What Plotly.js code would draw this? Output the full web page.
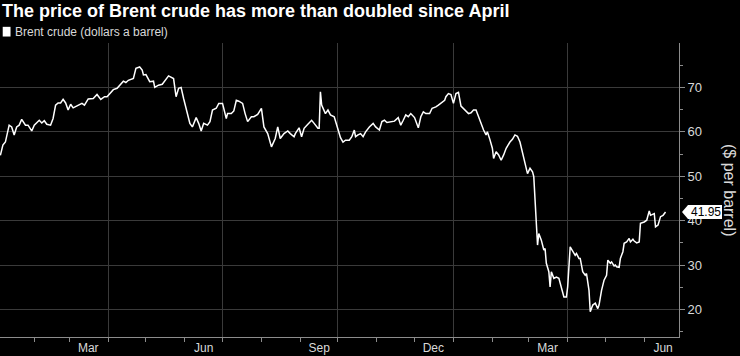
<!DOCTYPE html>
<html>
<head>
<meta charset="utf-8">
<script src="https://cdn.plot.ly/plotly-3.0.1.min.js"></script>
<style>
  html, body { margin: 0; padding: 0; background: #000; }
  #chart { width: 740px; height: 356px; }
</style>
</head>
<body>
<div id="chart"></div>
<script>
const chartTitle = 'The price of Brent crude has more than doubled since April';
const seriesName = 'Brent crude (dollars a barrel)';
const yAxisTitle = '($ per barrel)';

const dates = [
  '2019-01-05','2019-01-07','2019-01-09','2019-01-12','2019-01-14','2019-01-16','2019-01-18','2019-01-20',
  '2019-01-22','2019-01-25','2019-01-27','2019-01-30','2019-02-01','2019-02-05','2019-02-07','2019-02-09',
  '2019-02-11','2019-02-14','2019-02-16','2019-02-18','2019-02-20','2019-02-22','2019-02-24','2019-02-26',
  '2019-02-28','2019-03-02','2019-03-04','2019-03-08','2019-03-11','2019-03-13','2019-03-16','2019-03-20',
  '2019-03-23','2019-03-26','2019-03-29','2019-03-31','2019-04-03','2019-04-05','2019-04-08','2019-04-11',
  '2019-04-13','2019-04-15','2019-04-17','2019-04-21','2019-04-23','2019-04-26','2019-04-28','2019-04-29',
  '2019-05-01','2019-05-04','2019-05-07','2019-05-08','2019-05-11','2019-05-14','2019-05-17','2019-05-19',
  '2019-05-23','2019-05-25','2019-05-27','2019-05-29','2019-05-31','2019-06-03','2019-06-05','2019-06-07',
  '2019-06-10','2019-06-12','2019-06-14','2019-06-16','2019-06-19','2019-06-21','2019-06-23','2019-06-26',
  '2019-06-28','2019-07-01','2019-07-04','2019-07-05','2019-07-08','2019-07-10','2019-07-12','2019-07-14',
  '2019-07-17','2019-07-19','2019-07-21','2019-07-24','2019-07-26','2019-07-29','2019-08-01','2019-08-03',
  '2019-08-06','2019-08-09','2019-08-11','2019-08-12','2019-08-14','2019-08-16','2019-08-19','2019-08-22',
  '2019-08-24','2019-08-27','2019-08-28','2019-08-31','2019-09-02','2019-09-04','2019-09-07','2019-09-10',
  '2019-09-12','2019-09-15','2019-09-16','2019-09-17','2019-09-18','2019-09-21','2019-09-23','2019-09-25',
  '2019-09-28','2019-09-30','2019-10-03','2019-10-05','2019-10-07','2019-10-10','2019-10-12','2019-10-14',
  '2019-10-15','2019-10-17','2019-10-19','2019-10-21','2019-10-23','2019-10-26','2019-10-29','2019-10-31',
  '2019-11-03','2019-11-05','2019-11-07','2019-11-09','2019-11-12','2019-11-15','2019-11-18','2019-11-20',
  '2019-11-22','2019-11-24','2019-11-26','2019-11-28','2019-12-01','2019-12-04','2019-12-06','2019-12-08',
  '2019-12-10','2019-12-13','2019-12-15','2019-12-18','2019-12-20','2019-12-22','2019-12-25','2019-12-26',
  '2019-12-28','2019-12-30','2020-01-01','2020-01-03','2020-01-05','2020-01-07','2020-01-10','2020-01-13',
  '2020-01-15','2020-01-17','2020-01-19','2020-01-22','2020-01-25','2020-01-27','2020-01-28','2020-01-30',
  '2020-02-01','2020-02-02','2020-02-04','2020-02-06','2020-02-08','2020-02-10','2020-02-12','2020-02-15',
  '2020-02-17','2020-02-19','2020-02-21','2020-02-23','2020-02-25','2020-02-27','2020-02-29','2020-03-02',
  '2020-03-04','2020-03-05','2020-03-06','2020-03-08','2020-03-09','2020-03-11','2020-03-13','2020-03-14',
  '2020-03-15','2020-03-17','2020-03-18','2020-03-19','2020-03-21','2020-03-23','2020-03-25','2020-03-27',
  '2020-03-29','2020-03-31','2020-04-01','2020-04-03','2020-04-05','2020-04-07','2020-04-08','2020-04-10',
  '2020-04-11','2020-04-13','2020-04-15','2020-04-16','2020-04-18','2020-04-19','2020-04-21','2020-04-23',
  '2020-04-25','2020-04-26','2020-04-28','2020-04-30','2020-05-02','2020-05-03','2020-05-05','2020-05-06',
  '2020-05-08','2020-05-09','2020-05-10','2020-05-12','2020-05-13','2020-05-15','2020-05-16','2020-05-18',
  '2020-05-20','2020-05-21','2020-05-23','2020-05-24','2020-05-26','2020-05-28','2020-05-29','2020-06-01',
  '2020-06-03','2020-06-05','2020-06-06','2020-06-09','2020-06-10','2020-06-12','2020-06-14','2020-06-16',
  '2020-06-18'
];

const prices = [
  54.7,57.0,57.7,61.5,61.1,59.3,61.1,61.5,
  62.8,61.5,61.5,60.2,61.5,62.6,62.0,62.5,
  61.7,61.5,63.0,66.0,66.5,66.5,67.3,66.5,
  64.9,66.2,65.4,65.9,66.4,66.0,67.4,67.5,
  68.4,67.3,67.9,67.9,69.0,69.5,69.8,70.9,
  71.4,71.1,71.6,72.0,74.3,74.6,73.9,72.8,
  72.9,71.3,71.4,70.0,70.5,70.7,72.0,72.6,
  72.0,67.9,69.8,70.0,67.5,63.8,61.9,61.1,
  63.2,61.9,60.2,61.9,61.5,62.3,64.9,65.3,
  66.4,66.4,63.0,64.1,64.1,64.7,67.1,66.9,
  66.4,64.1,62.3,63.4,63.4,63.9,65.3,61.1,
  59.6,56.6,58.1,58.5,61.1,58.5,59.6,60.2,
  59.6,58.9,59.6,60.9,58.9,60.8,61.7,62.6,
  61.9,60.8,60.8,69.0,66.0,64.1,64.9,63.8,
  63.4,61.7,58.7,57.7,58.1,58.1,58.9,60.4,
  58.9,59.3,59.6,58.9,60.0,61.1,61.9,61.1,
  60.4,62.3,62.6,62.1,62.3,62.4,63.2,61.5,
  62.6,63.8,63.4,64.1,63.2,60.9,63.4,64.5,
  64.1,64.1,65.3,65.6,66.0,66.4,67.1,67.9,
  68.6,68.4,66.4,68.6,68.9,65.8,65.0,64.1,
  64.3,64.9,64.9,62.6,60.4,59.3,60.0,58.3,
  56.3,54.0,55.5,54.8,53.6,54.8,56.3,57.7,
  58.3,59.3,59.0,57.7,55.1,52.5,50.6,51.8,
  51.0,49.9,44.6,34.5,37.1,35.6,33.4,33.7,
  30.4,28.5,25.1,28.5,27.0,27.3,27.0,25.1,
  22.8,22.8,25.1,34.1,33.0,32.2,32.6,31.5,
  31.5,28.5,27.7,28.1,24.3,19.5,21.0,21.4,
  20.2,21.0,24.3,26.6,27.7,31.1,30.4,30.7,
  29.8,30.0,29.6,29.5,31.5,33.0,34.9,35.2,
  36.0,35.2,35.8,35.4,35.0,35.2,39.4,39.7,
  40.1,42.2,41.2,41.6,38.6,39.0,40.9,41.2,
  41.95
];

const monthTickDates = ['2019-03-16','2019-06-16','2019-09-16','2019-12-16','2020-03-16','2020-06-16'];
const monthTickLabels = ['Mar','Jun','Sep','Dec','Mar','Jun'];
const quarterGridDates = ['2019-04-01','2019-07-01','2019-10-01','2020-01-01','2020-04-01'];
const yTickValues = [20, 30, 40, 50, 60, 70];
const lastValue = prices[prices.length - 1];

const font = '"Liberation Sans", Arial, sans-serif';

const trace = {
  x: dates, y: prices, type: 'scatter', mode: 'lines',
  line: { color: '#ffffff', width: 1.5 },
  hoverinfo: 'skip', showlegend: false
};
const gridTrace = {
  x: [quarterGridDates[0]], y: [null], xaxis: 'x2', type: 'scatter', mode: 'lines',
  showlegend: false, hoverinfo: 'skip'
};

const xRange = ['2019-01-04 17:00', '2020-06-28 17:00'];

const layout = {
  width: 740, height: 356,
  paper_bgcolor: '#000', plot_bgcolor: '#000',
  margin: { l: 0, r: 61, t: 43, b: 19 },
  font: { family: font, color: '#d9d9d9', size: 12 },
  showlegend: false,
  title: {
    text: '<b>' + chartTitle + '</b>',
    font: { family: font, size: 18, color: '#ffffff' },
    x: 0.003, xanchor: 'left', xref: 'paper', y: 0.988, yanchor: 'top', yref: 'container'
  },
  xaxis: {
    type: 'date', range: xRange,
    tickmode: 'array', tickvals: monthTickDates, ticktext: monthTickLabels,
    ticks: '', showgrid: false, zeroline: false,
    showline: true, linecolor: '#8c8c8c', linewidth: 1,
    tickfont: { family: font, size: 12, color: '#d9d9d9' },
    minor: { tickmode: 'linear', tick0: '2019-01-01', dtick: 'M1', ticks: 'outside', ticklen: 4, tickcolor: '#8c8c8c', showgrid: false }
  },
  xaxis2: {
    type: 'date', overlaying: 'x', matches: 'x', range: xRange,
    tickmode: 'array', tickvals: quarterGridDates, showticklabels: false, ticks: '',
    showgrid: true, gridcolor: '#3a3a3a', gridwidth: 1, zeroline: false, showline: false
  },
  yaxis: {
    side: 'right', range: [13.8, 80],
    tickmode: 'array', tickvals: yTickValues,
    ticks: 'outside', ticklen: 5, tickcolor: '#8c8c8c',
    showgrid: true, gridcolor: '#3a3a3a', gridwidth: 1, zeroline: false,
    showline: true, linecolor: '#8c8c8c', linewidth: 1,
    tickfont: { family: font, size: 13, color: '#d9d9d9' },
    minor: { tickmode: 'linear', tick0: 15, dtick: 10, ticks: 'outside', ticklen: 3, tickcolor: '#8c8c8c', showgrid: false }
  },
  shapes: [
    {
      type: 'path', xref: 'paper', yref: 'y', xsizemode: 'pixel', ysizemode: 'pixel',
      xanchor: 1, yanchor: lastValue,
      path: 'M 3 0 L 9 -7 L 43 -7 L 43 7 L 9 7 Z',
      fillcolor: '#ffffff', line: { width: 0 }
    },
    {
      type: 'rect', xref: 'paper', yref: 'paper', x0: 0.004, x1: 0.0155, y0: 1.022, y1: 1.055,
      fillcolor: '#ffffff', line: { width: 0 }
    }
  ],
  annotations: [
    {
      text: lastValue.toFixed(2), xref: 'paper', yref: 'y', x: 1, y: lastValue,
      xanchor: 'left', yanchor: 'middle', xshift: 10, showarrow: false,
      font: { family: font, size: 12, color: '#000000' }
    },
    {
      text: seriesName, xref: 'paper', yref: 'paper', x: 0.019, y: 1.038,
      xanchor: 'left', yanchor: 'middle', showarrow: false,
      font: { family: font, size: 12, color: '#d9d9d9' }
    },
    {
      text: yAxisTitle, xref: 'paper', yref: 'paper', x: 1, y: 0.5,
      xanchor: 'center', yanchor: 'middle', xshift: 51, textangle: 90, showarrow: false,
      font: { family: font, size: 16, color: '#d9d9d9' }
    }
  ]
};

Plotly.newPlot('chart', [trace, gridTrace], layout, { staticPlot: true, displayModeBar: false });
</script>
</body>
</html>
